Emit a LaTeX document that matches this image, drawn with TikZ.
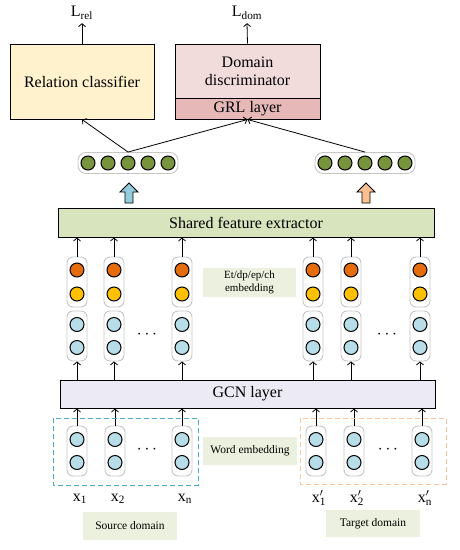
\documentclass[tikz,border=0pt]{standalone}
\usepackage{fontspec}
\setmainfont{Liberation Serif}
\usetikzlibrary{positioning,arrows.meta,calc}

\definecolor{clsyellow}{HTML}{FFF2CC}
\definecolor{dompink}{HTML}{F2DCDB}
\definecolor{grlpink}{HTML}{E6B9B8}
\definecolor{sharedgreen}{HTML}{D7E4BD}
\definecolor{gcnpurple}{HTML}{ECEAF4}
\definecolor{taggreen}{HTML}{EBF1DE}
\definecolor{outgreen}{HTML}{77933C}
\definecolor{featorange}{HTML}{E46C0A}
\definecolor{featyellow}{HTML}{FFC000}
\definecolor{unitblue}{HTML}{B7DEE8}
\definecolor{arrowblue}{HTML}{93CDDD}
\definecolor{arroworange}{HTML}{FAC090}
\definecolor{srcblue}{HTML}{4BACC6}
\definecolor{tgtorange}{HTML}{F9C59D}

\begin{document}
\begin{tikzpicture}[x=1pt,y=-1pt,
    every node/.style={font=\fontsize{16}{18}\selectfont},
    layer/.style={draw, line width=1pt, inner sep=0pt},
    capsule/.style={draw=gray!45, line width=0.9pt, rounded corners=6pt,
      minimum width=20pt, minimum height=50pt, inner sep=0pt},
    unit/.style={circle, draw, line width=1pt, minimum size=14pt, inner sep=0pt},
    tag/.style={fill=taggreen, inner sep=0pt, align=center,
      font=\fontsize{11.5}{13}\selectfont},
    up/.style={-{Straight Barb[length=3pt,width=7pt]}, line width=0.8pt},
    blockup/.style={draw, line width=0.8pt}]
  \useasboundingbox (0,0) rectangle (460,550);

  % classifiers
  \node[layer, fill=clsyellow, minimum width=144pt, minimum height=75pt]
    (rel) at (82,81.5) {Relation classifier};
  \node[layer, fill=dompink, minimum width=145pt, minimum height=54pt, align=center]
    (dom) at (247.5,71) {Domain\\discriminator};
  \node[layer, fill=grlpink, minimum width=145pt, minimum height=21pt]
    (grl) at (247.5,108.5) {GRL layer};
  \node (lrel) at (82,13) {L\textsubscript{rel}};
  \node (ldom) at (247,13) {L\textsubscript{dom}};
  \draw[up] (rel.north) -- (lrel.south);
  \draw[up] (dom.north) -- (ldom.south);

  % output vectors
  \node[capsule, minimum width=100pt, minimum height=21pt, rounded corners=8pt]
    (srcvec) at (128,163) {};
  \node[capsule, minimum width=100pt, minimum height=21pt, rounded corners=8pt]
    (tgtvec) at (365,163) {};
  \foreach \i in {-2,...,2} {
    \node[unit, fill=outgreen] at ($(srcvec)+(\i*20,0)$) {};
    \node[unit, fill=outgreen] at ($(tgtvec)+(\i*20,0)$) {};
  }
  \draw[up] (srcvec.north) -- (rel.south);
  \draw[up] (srcvec.north) -- (grl.south);
  \draw[up] (tgtvec.north) -- (grl.south);

  % block arrows
  \coordinate (srcup) at (129,183);
  \coordinate (tgtup) at (366,183);
  \foreach \c/\f in {srcup/arrowblue,tgtup/arroworange}
    \draw[blockup, fill=\f] (\c) -- ++(9,9) -- ++(-5,0) -- ++(0,11) -- ++(-8,0)
      -- ++(0,-11) -- ++(-5,0) -- cycle;

  % shared layers
  \node[layer, fill=sharedgreen, minimum width=376pt, minimum height=29pt]
    (shared) at (246,222.5) {Shared feature extractor};
  \node[layer, fill=gcnpurple, minimum width=375pt, minimum height=28pt]
    (gcn) at (247.5,394) {GCN layer};

  % token columns
  \foreach \x/\w/\n in {77/77/s1,114/115/s2,182/182/sn,313/316/t1,351/354/t2,420/422/tn} {
    \node[capsule] (emb\n) at (\x,282) {};
    \node[unit, fill=featorange] at (\x,270) {};
    \node[unit, fill=featyellow] at (\x,294) {};
    \node[capsule] (hid\n) at (\x,336) {};
    \node[unit, fill=unitblue] at (\x,324.5) {};
    \node[unit, fill=unitblue] at (\x,347.5) {};
    \draw[up] (emb\n.north) -- (emb\n.north |- shared.south);
    \draw[up] (gcn.north -| hid\n.south) -- (hid\n.south);
    \node[capsule] (word\n) at (\w,451) {};
    \node[unit, fill=unitblue] at (\w,439.5) {};
    \node[unit, fill=unitblue] at (\w,462.5) {};
    \draw[up] (word\n.north) -- (word\n.north |- gcn.south);
  }
  \node (hiddots) at (147,335) {$\cdots$};
  \node (hiddotsb) at (387,335) {$\cdots$};
  \node (worddots) at (147,450) {$\cdots$};
  \node (worddotsb) at (388,450) {$\cdots$};

  % domains
  \draw[srcblue, line width=1pt, dash pattern=on 5pt off 3pt] (53,418) rectangle (198,485);
  \draw[tgtorange, line width=1pt, dash pattern=on 5pt off 3pt] (300,418) rectangle (446,484);
  \node (xs1) at (80,499) {x\textsubscript{1}};
  \node (xs2) at (118,499) {x\textsubscript{2}};
  \node (xsn) at (185,499) {x\textsubscript{n}};
  \node (xt1) at (319,498) {x\rlap{\textsuperscript{$\prime$}}\textsubscript{1}};
  \node (xt2) at (357,498) {x\rlap{\textsuperscript{$\prime$}}\textsubscript{2}};
  \node (xtn) at (425,498) {x\rlap{\textsuperscript{$\prime$}}\textsubscript{n}};

  % tags
  \node[tag, font=\fontsize{11}{12.5}\selectfont, minimum width=93pt, minimum height=29pt]
    (embtag) at (249.5,282.5) {Et/dp/ep/ch\\embedding};
  \node[tag, minimum width=94pt, minimum height=28pt] (wordtag) at (250,451) {Word embedding};
  \node[tag, minimum width=94pt, minimum height=28pt] (srctag) at (130,526) {Source domain};
  \node[tag, minimum width=94pt, minimum height=27pt] (tgttag) at (373,523.5) {Target domain};
\end{tikzpicture}
\end{document}
